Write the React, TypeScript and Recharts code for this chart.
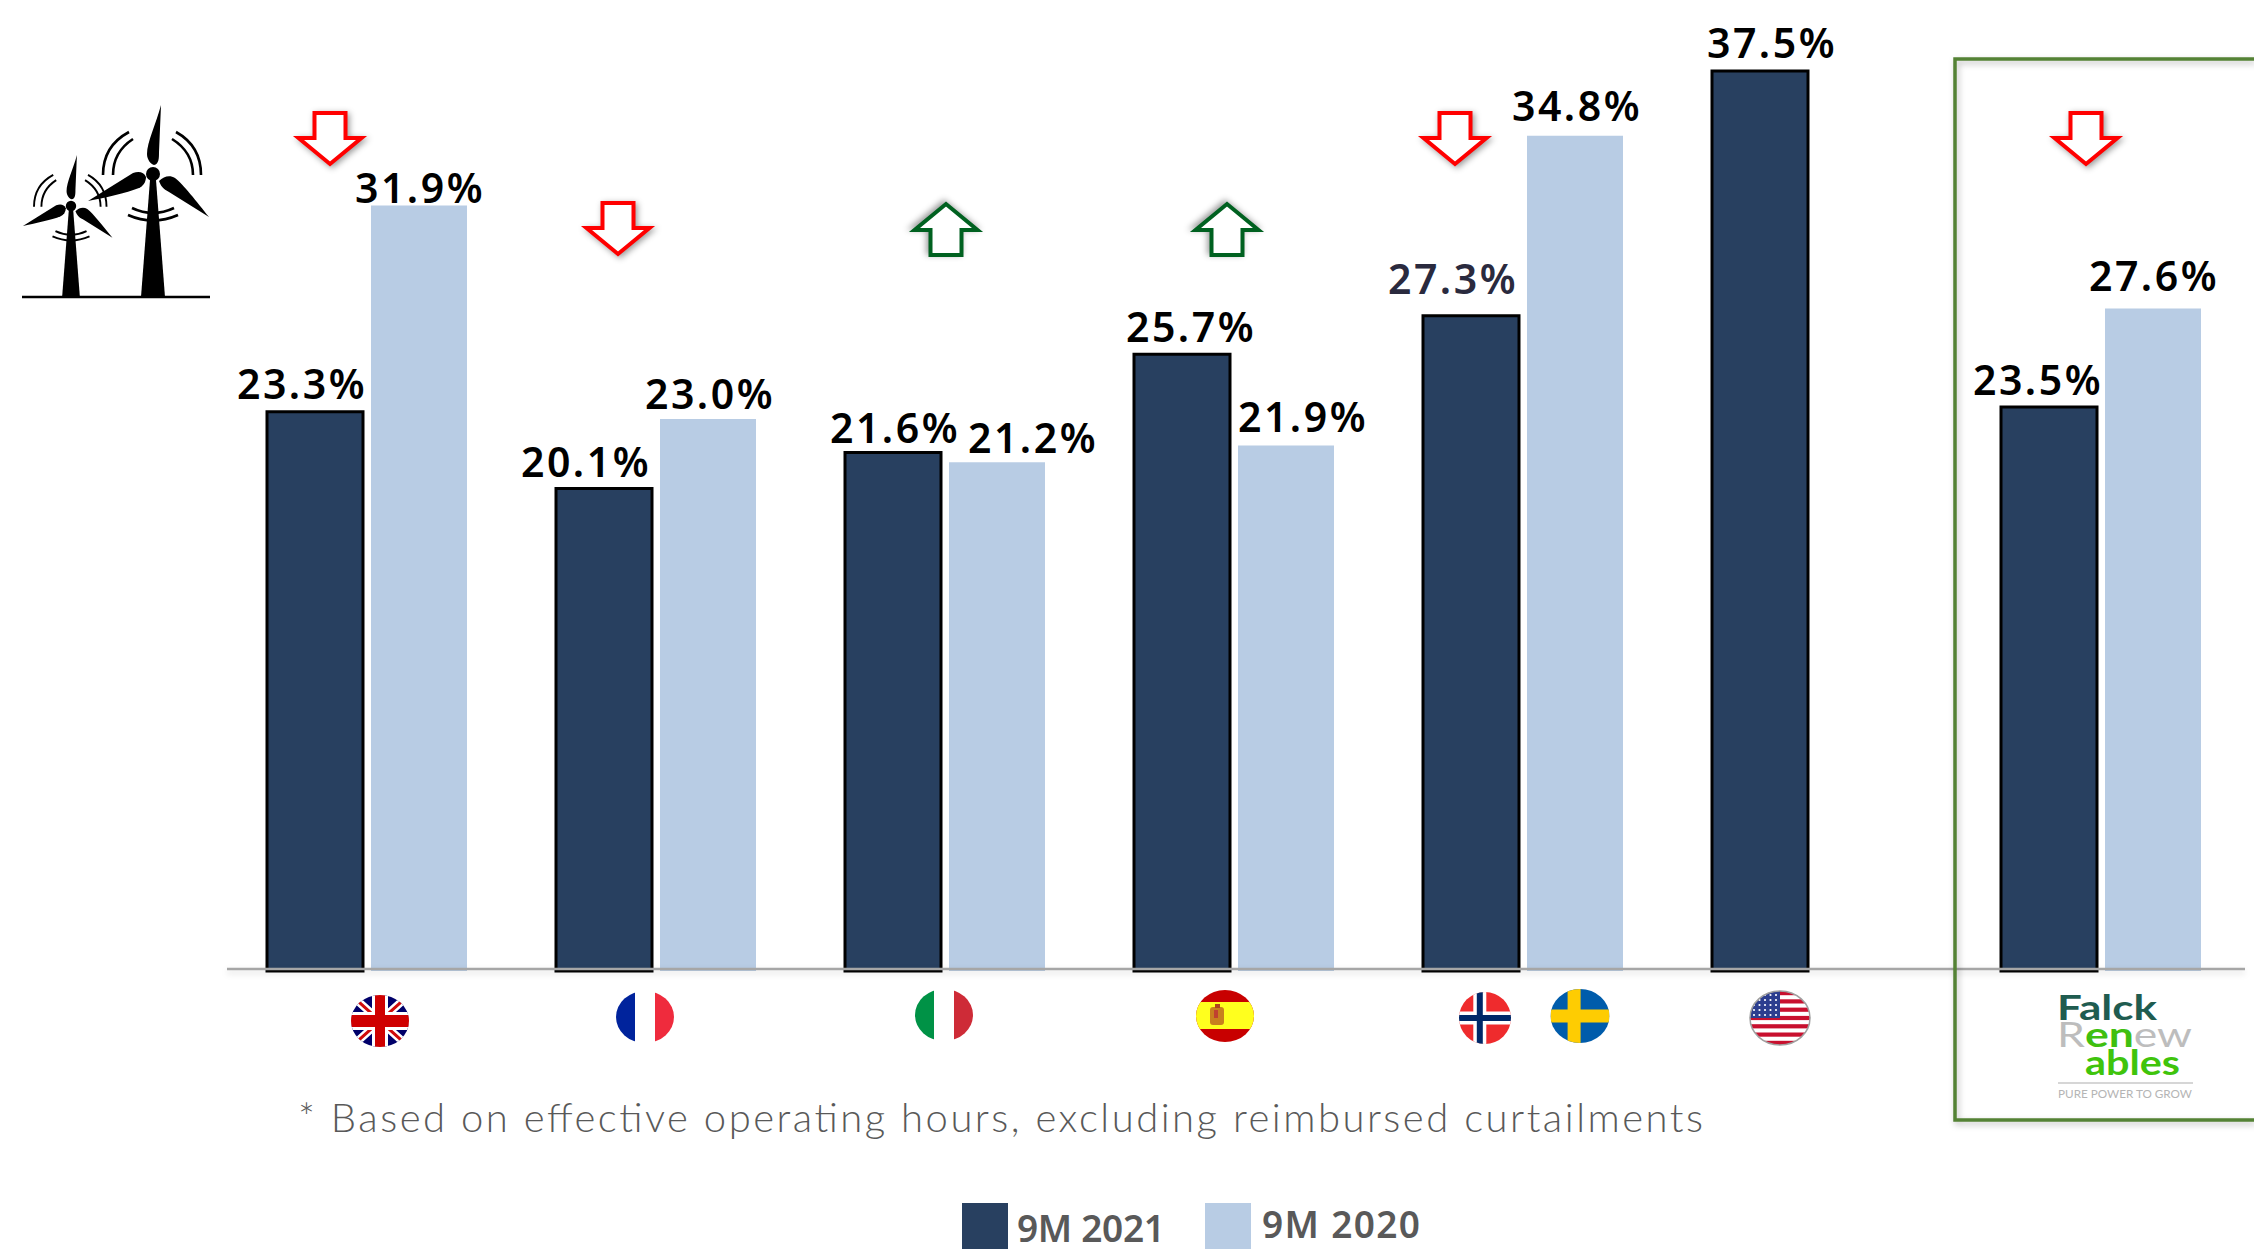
import { BarChart, Bar, XAxis, YAxis, Legend, LabelList } from "recharts"

const categories = ["United Kingdom", "France", "Italy", "Spain", "Norway & Sweden", "United States", "Falck Renewables"]
const values2021 = [23.3, 20.1, 21.6, 25.7, 27.3, 37.5, 23.5]
const values2020 = [31.9, 23.0, 21.2, 21.9, 34.8, null, 27.6]

const data = categories.map((name, i) => ({ name, y2021: values2021[i], y2020: values2020[i] }))

// the labels in the original were hand placed, so each one gets a nudge
// (the 2020 series has no US bar, so its list is one shorter)
const dxDark = [-13, -18, 2, 9, -18, 12, -11]
const dyDark = [13, 12, 10, 12, 22, 13, 12]
const dxLight = [1, 2, 36, 17, 2, 1]
const dyLight = [2, 10, 9, 13, 15, 18]

const DARK = "#284060"
const LIGHT = "#b8cce4"
const GREY = "#595959"
const LABEL_FONT = "'Noto Sans', sans-serif"

function ValueLabel({ x, y, width, value, index, dxs, dys }: any) {
  if (value == null) return null
  const isOdd = value === 27.3
  return (
    <text
      x={x + width / 2 + dxs[index]}
      y={y - dys[index]}
      textAnchor="middle"
      fontFamily={LABEL_FONT}
      fontWeight={600}
      fontSize={41}
      letterSpacing={2.5}
      fill={isOdd ? "#2a2a3e" : "#000"}
    >
      {`${Number(value).toFixed(1)}%`}
    </text>
  )
}

function Disc({ id, cx, cy, rx, ry, children }: any) {
  return (
    <g>
      <clipPath id={id}>
        <ellipse cx={cx} cy={cy} rx={rx} ry={ry} />
      </clipPath>
      <g clipPath={`url(#${id})`}>{children}</g>
    </g>
  )
}

function UkFlag() {
  const cx = 380
  const cy = 1021
  return (
    <Disc id="uk" cx={cx} cy={cy} rx={29} ry={26}>
      <rect x={cx - 30} y={cy - 27} width={60} height={54} fill="#00006a" />
      <path d={`M${cx - 30} ${cy - 27}L${cx + 30} ${cy + 27}M${cx + 30} ${cy - 27}L${cx - 30} ${cy + 27}`} stroke="#fff" strokeWidth={8} />
      <path d={`M${cx - 30} ${cy - 27}L${cx + 30} ${cy + 27}M${cx + 30} ${cy - 27}L${cx - 30} ${cy + 27}`} stroke="#cf0a0a" strokeWidth={3} />
      <rect x={cx - 8} y={cy - 27} width={16} height={54} fill="#fff" />
      <rect x={cx - 30} y={cy - 9} width={60} height={18} fill="#fff" />
      <rect x={cx - 5} y={cy - 27} width={10} height={54} fill="#cf0000" />
      <rect x={cx - 30} y={cy - 6} width={60} height={12} fill="#cf0000" />
    </Disc>
  )
}

function TriFlag({ id, cx, cy, left, right }: any) {
  return (
    <Disc id={id} cx={cx} cy={cy} rx={29} ry={26}>
      <rect x={cx - 30} y={cy - 27} width={20} height={54} fill={left} />
      <rect x={cx - 10} y={cy - 27} width={20} height={54} fill="#fff" />
      <rect x={cx + 10} y={cy - 27} width={20} height={54} fill={right} />
    </Disc>
  )
}

function SpainFlag() {
  const cx = 1225
  const cy = 1016
  return (
    <Disc id="es" cx={cx} cy={cy} rx={29} ry={26}>
      <rect x={cx - 30} y={cy - 27} width={60} height={54} fill="#c80000" />
      <rect x={cx - 30} y={cy - 14} width={60} height={27} fill="#ffff1e" />
      <rect x={cx - 15} y={cy - 9} width={14} height={18} rx={3} fill="#c8801e" />
      <rect x={cx - 10} y={cy - 12} width={5} height={4} fill="#b0451e" />
      <rect x={cx - 11} y={cy - 6} width={4} height={8} fill="#c04030" />
    </Disc>
  )
}

function NordicFlag({ id, cx, cy, rx, ry, base, cross, inner }: any) {
  const bar = cx - rx * 0.2
  return (
    <Disc id={id} cx={cx} cy={cy} rx={rx} ry={ry}>
      <rect x={cx - rx} y={cy - ry} width={rx * 2} height={ry * 2} fill={base} />
      <rect x={bar - 6.5} y={cy - ry} width={13} height={ry * 2} fill={cross} />
      <rect x={cx - rx} y={cy - 6.5} width={rx * 2} height={13} fill={cross} />
      {inner && <rect x={bar - 3} y={cy - ry} width={6} height={ry * 2} fill={inner} />}
      {inner && <rect x={cx - rx} y={cy - 3} width={rx * 2} height={6} fill={inner} />}
    </Disc>
  )
}

function UsFlag() {
  const cx = 1780
  const cy = 1018
  const stripes = [0, 1, 2, 3, 4, 5, 6]
  const stars = [0, 1, 2, 3, 4]
  return (
    <g>
      <Disc id="us" cx={cx} cy={cy} rx={30} ry={27}>
        <rect x={cx - 30} y={cy - 27} width={60} height={54} fill="#fff" />
        {stripes.map((s) => (
          <rect key={s} x={cx - 30} y={cy - 27 + s * 8.3} width={60} height={4.2} fill="#c8102e" />
        ))}
        <rect x={cx - 30} y={cy - 27} width={30} height={27} fill="#2c3e8f" />
        {stars.map((r) =>
          stars.map((c) => <circle key={`${r}${c}`} cx={cx - 26 + c * 5.5} cy={cy - 23 + r * 5} r={1.1} fill="#fff" />)
        )}
      </Disc>
      <ellipse cx={cx} cy={cy} rx={30} ry={27} fill="none" stroke="#a0a0a0" strokeWidth={1.5} />
    </g>
  )
}

function FalckLogo() {
  const font = "Lato, sans-serif"
  return (
    <g fontFamily={font}>
      <text x={2057} y={1020} fontSize={34} fontWeight={700} fill="#1f5c50" textLength={100} lengthAdjust="spacingAndGlyphs">Falck</text>
      <text x={2057} y={1047} fontSize={34} textLength={135} lengthAdjust="spacingAndGlyphs">
        <tspan fill="#bdbdbd">R</tspan>
        <tspan fill="#3fbf10" fontWeight={700}>en</tspan>
        <tspan fill="#bdbdbd">ew</tspan>
      </text>
      <text x={2085} y={1075} fontSize={34} fontWeight={700} fill="#3fc40c" textLength={95} lengthAdjust="spacingAndGlyphs">ables</text>
      <line x1={2058} x2={2193} y1={1083} y2={1083} stroke="#c8c8c8" strokeWidth={1.5} />
      <text x={2058} y={1098} fontSize={11} fill="#b5b5b5" textLength={134} lengthAdjust="spacingAndGlyphs">PURE POWER TO GROW</text>
    </g>
  )
}

function CategoryTick({ payload }: any) {
  switch (payload.value) {
    case "United Kingdom":
      return <UkFlag />
    case "France":
      return <TriFlag id="fr" cx={645} cy={1017} left="#00239c" right="#ef2b3d" />
    case "Italy":
      return <TriFlag id="it" cx={944} cy={1015} left="#009246" right="#ce2b37" />
    case "Spain":
      return <SpainFlag />
    case "Norway & Sweden":
      return (
        <g>
          <NordicFlag id="no" cx={1485} cy={1018} rx={26} ry={26} base="#ef2b2d" cross="#fff" inner="#002868" />
          <NordicFlag id="se" cx={1580} cy={1016} rx={29.5} ry={27} base="#005cab" cross="#fecc02" />
        </g>
      )
    case "United States":
      return <UsFlag />
    default:
      return <FalckLogo />
  }
}

function Turbine({ x, y, k }: { x: number; y: number; k: number }) {
  return (
    <g transform={`translate(${x} ${y}) scale(${k})`} fill="#000">
      <path d="M-3 6 L3 6 L12 123 L-12 123 Z" />
      <circle r={7} />
      <path d="M8 -69 C3 -50 -6 -32 -6 -20 C-6 -14 -2 -10 1 -9 C6 -10 6 -16 6 -22 Z" />
      <path d="M-65 27 C-50 24 -26 19 -14 14 C-10 12 -7 8 -7 3 C-9 -2 -14 -3 -20 -1 Z" />
      <path d="M56 43 C44 28 30 10 22 4 C17 1 11 2 6 7 C8 12 10 15 16 18 Z" />
      <g fill="none" stroke="#000" strokeWidth={2.6}>
        <path d="M-50 1 Q-50 -28 -24 -42" />
        <path d="M-40 1 Q-40 -22 -20 -35" />
        <path d="M23 -42 Q48 -28 48 1" />
        <path d="M19 -35 Q40 -22 40 1" />
        <path d="M-25 41 Q0 52 25 41" />
        <path d="M-21 34 Q0 44 21 34" />
      </g>
    </g>
  )
}

function Arrow({ cx, top, up }: { cx: number; top: number; up?: boolean }) {
  // drawn as a down arrow and flipped for the up ones
  const shape = `M${cx - 15.5} ${top} H${cx + 15.5} V${top + 25} H${cx + 31.5} L${cx} ${top + 51} L${cx - 31.5} ${top + 25} H${cx - 15.5} Z`
  return (
    <path
      d={shape}
      transform={up ? `rotate(180 ${cx} ${top + 26})` : undefined}
      fill="#fff"
      stroke={up ? "#006120" : "#ff0000"}
      strokeWidth={4}
      style={{ filter: "drop-shadow(2px 2px 3px rgba(0,0,0,0.4))" }}
    />
  )
}

function LegendContent({ payload }: any) {
  const spots = [
    { box: 962, text: 1017, base: 1242, len: 148 },
    { box: 1205, text: 1262, base: 1238, len: 158 },
  ]
  return (
    <svg width={2254} height={1250} style={{ position: "absolute", left: 0, top: 0 }}>
      {(payload ?? []).map((entry: any, i: number) => (
        <g key={entry.value}>
          <rect x={spots[i].box} y={1203} width={46} height={46} fill={i === 0 ? DARK : LIGHT} />
          <text
            x={spots[i].text}
            y={spots[i].base}
            fontFamily={LABEL_FONT}
            fontWeight={600}
            fontSize={37}
            textLength={spots[i].len}
            fill={GREY}
          >
            {entry.value}
          </text>
        </g>
      ))}
    </svg>
  )
}

export default function App() {
  return (
    <div style={{ position: "absolute", left: 0, top: 0, width: 2254, height: 1250, overflow: "hidden", background: "#fff" }}>
      <BarChart
        width={2254}
        height={1250}
        data={data}
        margin={{ top: 11, right: 9, bottom: 249, left: 222 }}
        barSize={96}
        barGap={8}
      >
        <XAxis
          dataKey="name"
          height={30}
          interval={0}
          tickLine={false}
          tick={<CategoryTick />}
          axisLine={false}
        />
        <YAxis hide domain={[0, 40]} width={0} />
        <Legend
          layout="horizontal"
          verticalAlign="middle"
          align="center"
          itemSorter={null}
          wrapperStyle={{ left: 0, top: 0, width: 2254, height: 1250 }}
          content={<LegendContent />}
        />
        <Bar dataKey="y2021" name="9M 2021" fill={DARK} stroke="#000" strokeWidth={3} isAnimationActive={false}>
          <LabelList dataKey="y2021" content={<ValueLabel dxs={dxDark} dys={dyDark} />} />
        </Bar>
        <Bar dataKey="y2020" name="9M 2020" fill={LIGHT} isAnimationActive={false}>
          <LabelList dataKey="y2020" content={<ValueLabel dxs={dxLight} dys={dyLight} />} />
        </Bar>
      </BarChart>

      <svg width={2254} height={1250} style={{ position: "absolute", left: 0, top: 0, pointerEvents: "none" }}>
        <line
          x1={227}
          x2={2245}
          y1={969}
          y2={969}
          stroke="#a6a6a6"
          strokeWidth={2.5}
          style={{ filter: "drop-shadow(0px 3px 3px rgba(0,0,0,0.15))" }}
        />

        <Turbine x={153} y={174} k={1} />
        <Turbine x={71} y={206} k={0.74} />
        <line x1={22} x2={210} y1={297} y2={297} stroke="#000" strokeWidth={2.5} />

        <Arrow cx={330} top={113} />
        <Arrow cx={618} top={203} />
        <Arrow cx={946} top={203} up />
        <Arrow cx={1227} top={203} up />
        <Arrow cx={1455} top={113} />
        <Arrow cx={2086} top={113} />

        <path
          d="M2254 59 H1955 V1120 H2254"
          fill="none"
          stroke="#548235"
          strokeWidth={3.5}
          style={{ filter: "drop-shadow(2px 3px 3px rgba(0,0,0,0.25))" }}
        />

        <text x={298} y={1132} fontFamily="Lato, sans-serif" fontWeight={300} fontSize={40} fill={GREY} textLength={1405}>
          * Based on effective operating hours, excluding reimbursed curtailments
        </text>
      </svg>
    </div>
  )
}
